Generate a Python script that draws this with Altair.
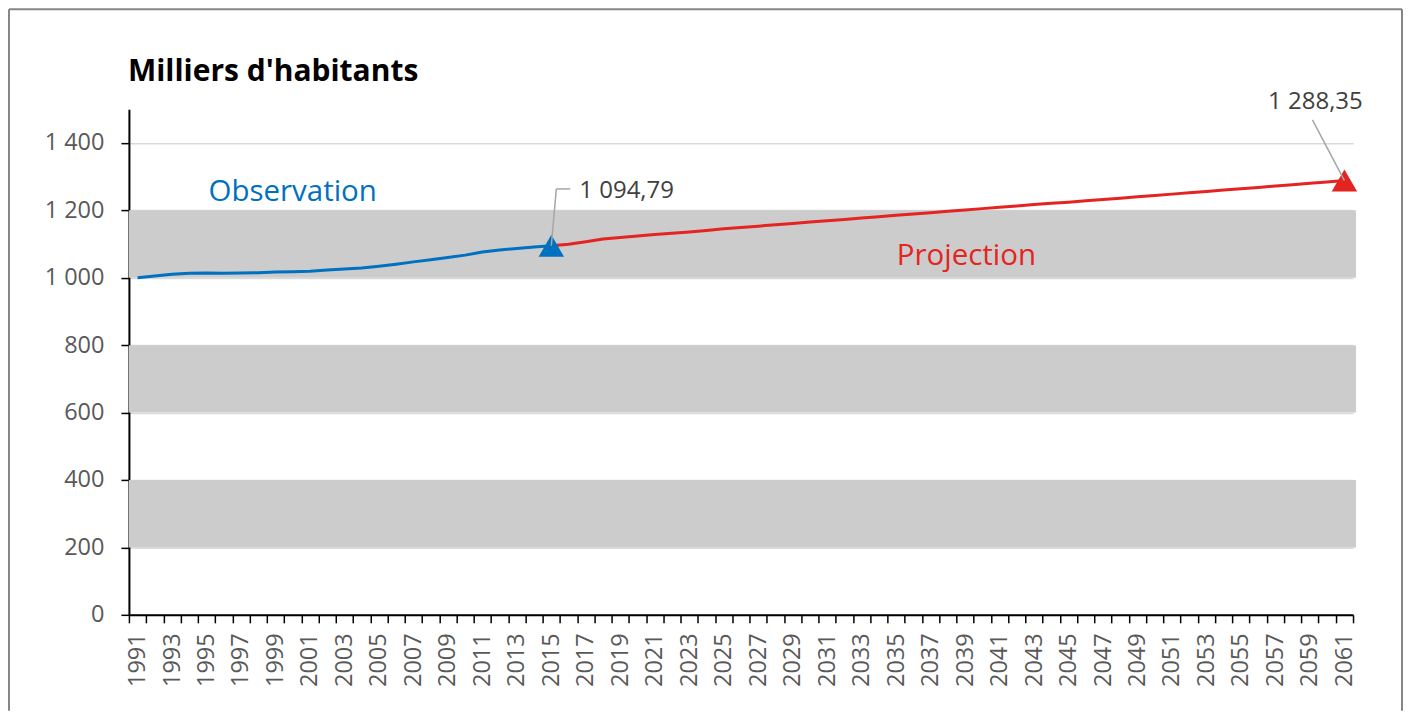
import altair as alt
import pandas as pd

# ---- data ----
all_years = list(range(1991, 2062))

obs_years = list(range(1991, 2016))
obs_values = [1000, 1005, 1010, 1013, 1014, 1013, 1014, 1015, 1017, 1018,
              1019, 1023, 1026, 1029, 1034, 1040, 1047, 1053, 1060, 1067,
              1076, 1082, 1087, 1091, 1094.79]

proj_years = list(range(2015, 2062))
proj_values = [1094.79, 1099, 1107, 1115, 1119, 1124, 1128, 1132, 1136, 1140,
               1145, 1149, 1153, 1157, 1161, 1165, 1169, 1173, 1177, 1181,
               1185, 1189, 1193, 1197, 1201, 1205, 1209, 1213, 1217, 1221,
               1224, 1228, 1232, 1236, 1240, 1244, 1248, 1252, 1256, 1260,
               1264, 1268, 1272, 1276, 1280, 1284, 1288.35]

band_lo = [200, 600, 1000]
band_hi = [400, 800, 1200]
y_ticks = [0, 200, 400, 600, 800, 1000, 1200, 1400]

BLUE = "#0070C0"
RED = "#E42421"
GREY_TXT = "#595959"
LEADER = "#A6A6A6"
FONT = "Open Sans"

W, H = 1225, 506

obs_df = pd.DataFrame({"year": obs_years, "v": obs_values})
proj_df = pd.DataFrame({"year": proj_years, "v": proj_values})
bands_df = pd.DataFrame({"lo": band_lo, "hi": band_hi})

xscale = alt.Scale(domain=all_years, paddingInner=0, paddingOuter=0)
xaxis = alt.Axis(title=None, tickBand="extent", labelAngle=270,
                 labelExpr="datum.value % 2 == 1 ? datum.label : ''",
                 labelFont=FONT, labelFontSize=23.5, labelColor=GREY_TXT,
                 labelPadding=10, tickSize=8, tickColor="black", tickWidth=1.5,
                 domainColor="black", domainWidth=2, grid=False, labelOverlap=False)
yscale = alt.Scale(domain=[0, 1500], nice=False)
yaxis = alt.Axis(title=None, values=y_ticks,
                 labelExpr="replace(format(datum.value, ','), ',', ' ')",
                 labelFont=FONT, labelFontSize=23.5, labelColor=GREY_TXT,
                 labelPadding=17, tickSize=8, tickColor="black", tickWidth=1.5,
                 domainColor="black", domainWidth=2,
                 grid=True, gridColor="#d9d9d9", gridWidth=1.5)

X = alt.X("year:O", scale=xscale, axis=xaxis)


def Y(field):
    return alt.Y(field, type="quantitative", scale=yscale, axis=yaxis)


one = pd.DataFrame({"a": [0]})

bands = alt.Chart(bands_df).mark_rect(color="#cccccc").encode(
    x=alt.value(0), x2=alt.value(W + 3), y=Y("lo"), y2="hi")

obs_line = alt.Chart(obs_df).mark_line(color=BLUE, strokeWidth=3).encode(x=X, y=Y("v"))
proj_line = alt.Chart(proj_df).mark_line(color=RED, strokeWidth=3).encode(x=X, y=Y("v"))

obs_end = obs_df.tail(1)
proj_end = proj_df.tail(1)

tri_obs = alt.Chart(obs_end).mark_point(shape="triangle-up", filled=True, size=650,
                                        opacity=1, color=BLUE).encode(x=X, y=Y("v"))
tri_proj = alt.Chart(proj_end).mark_point(shape="triangle-up", filled=True, size=650,
                                          opacity=1, color=RED).encode(x=X, y=Y("v"))

# leader lines (annotation anchors)
OBS_LEAD_Y = 1263.5
PROJ_LEAD_Y = 1468
lead1 = alt.Chart(obs_end).mark_rule(color=LEADER, strokeWidth=1.5, x2Offset=5).transform_calculate(
    v2=str(OBS_LEAD_Y)).encode(x=X, x2="year:O", y=Y("v"), y2="v2:Q")
lead2 = alt.Chart(obs_end).mark_rule(color=LEADER, strokeWidth=1.5, xOffset=5, x2Offset=19).transform_calculate(
    v2=str(OBS_LEAD_Y)).encode(x=X, x2="year:O", y=Y("v2:Q"))
lead3 = alt.Chart(proj_end).mark_rule(color=LEADER, strokeWidth=1.5, x2Offset=-32).transform_calculate(
    v2=str(PROJ_LEAD_Y)).encode(x=X, x2="year:O", y=Y("v"), y2="v2:Q")

fmt = "replace(replace(format(datum.v, ',.2f'), ',', ' '), '.', ',')"
lab_obs = alt.Chart(obs_end).mark_text(align="left", baseline="alphabetic", dx=28,
                                       font=FONT, fontSize=24, color="#404040").transform_calculate(
    lab=fmt, ly="1237").encode(x=X, y=Y("ly:Q"), text="lab:N")
lab_proj = alt.Chart(proj_end).mark_text(align="center", baseline="alphabetic", dx=-29,
                                         font=FONT, fontSize=24, color="#404040").transform_calculate(
    lab=fmt, ly="1500").encode(x=X, y=Y("ly:Q"), text="lab:N")

ann_df = pd.DataFrame({"year": [2000, 2040], "v": [1229, 1039],
                       "label": ["Observation", "Projection"]})
ann_obs = alt.Chart(ann_df.iloc[[0]]).mark_text(align="center", baseline="alphabetic",
                                                font=FONT, fontSize=29.5, color=BLUE).encode(
    x=X, y=Y("v"), text="label:N")
ann_proj = alt.Chart(ann_df.iloc[[1]]).mark_text(align="center", baseline="alphabetic", dx=-16,
                                                 font=FONT, fontSize=29.5, color=RED).encode(
    x=X, y=Y("v"), text="label:N")

title = alt.Chart(one).mark_text(text="Milliers d'habitants", align="left", baseline="alphabetic",
                                 font=FONT, fontSize=30, fontWeight="bold", color="black").encode(
    x=alt.value(-1), y=alt.value(-28))

FR = "#868686"
frame_l = alt.Chart(one).mark_rule(color=FR, strokeWidth=2).encode(
    x=alt.value(-120), y=alt.value(-100), y2=alt.value(602))
frame_r = alt.Chart(one).mark_rule(color=FR, strokeWidth=2).encode(
    x=alt.value(1274), y=alt.value(-100), y2=alt.value(602))
frame_t = alt.Chart(one).mark_rule(color=FR, strokeWidth=2).encode(
    x=alt.value(-120), x2=alt.value(1274), y=alt.value(-100))

chart = alt.layer(
    bands, obs_line, proj_line, tri_obs, tri_proj, lead1, lead2, lead3,
    lab_obs, lab_proj, ann_obs, ann_proj, title, frame_l, frame_r, frame_t
).properties(width=W, height=H, padding=0).configure_view(stroke=None)

chart.save("out.html", embed_options={"renderer": "svg", "actions": False})
